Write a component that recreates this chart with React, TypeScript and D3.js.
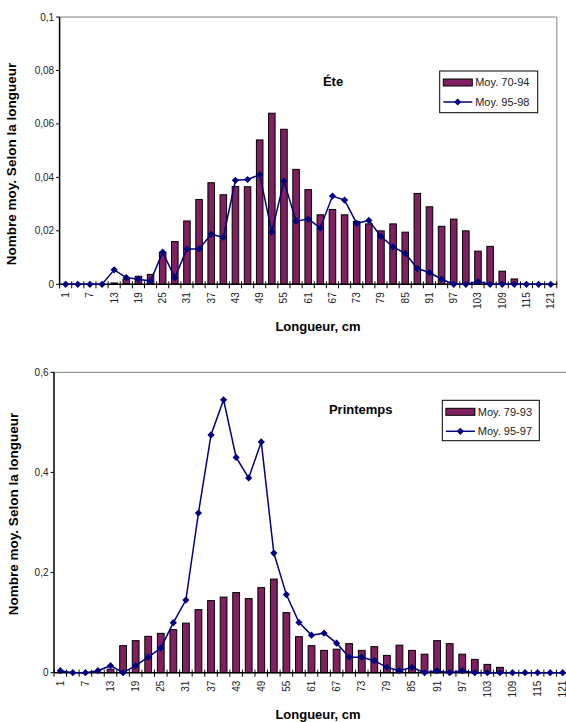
import React from "react";
import * as d3 from "d3";

const categories: number[] = d3.range(1, 122, 3);

const ete7094: number[] = [
  0, 0, 0, 0, 0.0005, 0.002, 0.003, 0.0037, 0.012, 0.016, 0.0237, 0.0317, 0.038, 0.0335,
  0.0366, 0.0365, 0.054, 0.064, 0.058, 0.043, 0.0354, 0.026, 0.028, 0.026, 0.0235, 0.0226,
  0.02, 0.0226, 0.0195, 0.034, 0.029, 0.0217, 0.0244, 0.02, 0.0124, 0.0142, 0.0049, 0.002,
  0, 0, 0,
];
const ete9598: number[] = [
  0, 0, 0, 0, 0.0054, 0.0025, 0.0019, 0.0012, 0.012, 0.0025, 0.0132, 0.0132, 0.0187, 0.0176,
  0.0389, 0.0392, 0.041, 0.0195, 0.0386, 0.0236, 0.0244, 0.0211, 0.033, 0.0315, 0.0228,
  0.0239, 0.0179, 0.014, 0.0116, 0.0059, 0.0044, 0.0019, 0, 0, 0.001, 0, 0, 0, 0, 0, 0,
];
const printemps7993: number[] = [
  0, 0, 0, 0, 0.007, 0.054, 0.064, 0.0726, 0.0786, 0.086, 0.099, 0.126, 0.144, 0.151, 0.16,
  0.148, 0.17, 0.187, 0.12, 0.072, 0.054, 0.0446, 0.047, 0.058, 0.0446, 0.052, 0.0346, 0.055,
  0.0446, 0.037, 0.064, 0.058, 0.037, 0.0266, 0.0166, 0.0107, 0, 0, 0, 0, 0,
];
const printemps9597: number[] = [
  0.004, 0, 0, 0.004, 0.014, 0, 0.014, 0.031, 0.049, 0.1, 0.145, 0.319, 0.475, 0.545, 0.43,
  0.389, 0.461, 0.239, 0.156, 0.1005, 0.075, 0.079, 0.059, 0.031, 0.031, 0.024, 0.0107, 0.004,
  0.0107, 0, 0.004, 0, 0.004, 0, 0, 0, 0, 0, 0, 0, 0,
];

const eteTicks: number[] = [0, 0.02, 0.04, 0.06, 0.08, 0.1];
const printempsTicks: number[] = [0, 0.2, 0.4, 0.6];

const FONT = "Liberation Sans, Arial, sans-serif";
const BAR_FILL = "#802060";
const LINE = "#000080";

interface PanelProps {
  left: number;
  right: number;
  top: number;
  bottom: number;
  yMax: number;
  yTicks: number[];
  bars: number[];
  line: number[];
  title: string;
  titleX: number;
  titleY: number;
  legend: { x: number; y: number; w: number; h: number };
  barLabel: string;
  lineLabel: string;
  yLabelX: number;
  yLabelY: number;
  xLabelY: number;
}

const fmt = (v: number) => (v === 0 ? "0" : String(+v.toFixed(2)).replace(".", ","));

function Panel(p: PanelProps) {
  const x = d3.scaleBand<number>().domain(categories).range([p.left, p.right]).padding(0);
  const y = d3.scaleLinear().domain([0, p.yMax]).range([p.bottom, p.top]);
  const bw = x.bandwidth();
  const barW = bw * 0.54;
  const cx = (c: number) => (x(c) as number) + bw / 2;
  const lineGen = d3
    .line<number>()
    .x((_, i) => cx(categories[i]))
    .y((d) => y(d));
  const diamond = (r: number) => `M0,${-r}L${r},0L0,${r}L${-r},0Z`;
  const boundaries = d3.range(categories.length + 1).map((i) => p.left + i * bw);
  const lg = p.legend;
  return (
    <g fontFamily={FONT}>
      <line x1={p.left} x2={p.right} y1={p.top} y2={p.top} stroke="#808080" strokeWidth={1} />
      <line x1={p.right} x2={p.right} y1={p.top} y2={p.bottom} stroke="#808080" strokeWidth={1} />
      {p.bars.map((v, i) =>
        v > 0 ? (
          <rect
            key={"b" + i}
            x={cx(categories[i]) - barW / 2}
            y={y(v)}
            width={barW}
            height={p.bottom - y(v)}
            fill={BAR_FILL}
            stroke="#000"
            strokeWidth={1}
          />
        ) : null
      )}
      <line x1={p.left} x2={p.left} y1={p.top} y2={p.bottom} stroke="#000" strokeWidth={1.5} />
      {p.yTicks.map((t) => (
        <g key={"yt" + t}>
          <line x1={p.left - 3.5} x2={p.left} y1={y(t)} y2={y(t)} stroke="#000" />
          <text x={p.left - 5.5} y={y(t)} dy="0.35em" textAnchor="end" fontSize={10} fill="#222">
            {fmt(t)}
          </text>
        </g>
      ))}
      <line x1={p.left} x2={p.right} y1={p.bottom} y2={p.bottom} stroke="#000" strokeWidth={1.5} />
      {boundaries.map((b, i) => (
        <line key={"xt" + i} x1={b} x2={b} y1={p.bottom - 3} y2={p.bottom + 4} stroke="#000" />
      ))}
      {categories.map((c, i) =>
        i % 2 === 0 ? (
          <text
            key={"xl" + c}
            transform={`translate(${cx(c) + 3.5},${p.bottom + 8}) rotate(-90)`}
            textAnchor="end"
            fontSize={10}
            fill="#222"
          >
            {c}
          </text>
        ) : null
      )}
      <path d={lineGen(p.line) || ""} fill="none" stroke={LINE} strokeWidth={1.5} />
      {p.line.map((v, i) => (
        <path
          key={"m" + i}
          d={diamond(3.6)}
          transform={`translate(${cx(categories[i])},${y(v)})`}
          fill={LINE}
        />
      ))}
      <text x={p.titleX} y={p.titleY} dy="0.35em" textAnchor="middle" fontSize={13} fontWeight="bold">
        {p.title}
      </text>
      <rect x={lg.x} y={lg.y} width={lg.w} height={lg.h} fill="#fff" stroke="#000" strokeWidth={1} />
      <rect x={lg.x + 3.6} y={lg.y + 8} width={29} height={7} fill={BAR_FILL} stroke="#000" strokeWidth={1} />
      <text x={lg.x + 35.5} y={lg.y + 11.5} dy="0.35em" fontSize={11} fill="#222">
        {p.barLabel}
      </text>
      <line x1={lg.x + 3.6} x2={lg.x + 32.6} y1={lg.y + 31} y2={lg.y + 31} stroke={LINE} strokeWidth={1.5} />
      <path d={diamond(3.6)} transform={`translate(${lg.x + 18},${lg.y + 31})`} fill={LINE} />
      <text x={lg.x + 35.5} y={lg.y + 31} dy="0.35em" fontSize={11} fill="#222">
        {p.lineLabel}
      </text>
      <text
        transform={`translate(${p.yLabelX},${p.yLabelY}) rotate(-90)`}
        textAnchor="middle"
        dy="0.35em"
        fontSize={13.5}
        fontWeight="bold"
      >
        Nombre moy. Selon la longueur
      </text>
      <text x={318} y={p.xLabelY} dy="0.35em" textAnchor="middle" fontSize={13} fontWeight="bold">
        Longueur, cm
      </text>
    </g>
  );
}

export default function App() {
  return (
    <svg
      width={566}
      height={722}
      style={{ position: "absolute", left: 0, top: 0, background: "#fff" }}
    >
      <rect width={566} height={722} fill="#fff" />
      <Panel
        left={59.6}
        right={556.8}
        top={17}
        bottom={284.3}
        yMax={0.1}
        yTicks={eteTicks}
        bars={ete7094}
        line={ete9598}
        title="Éte"
        titleX={333}
        titleY={81.7}
        legend={{ x: 439.7, y: 71, w: 98, h: 41.7 }}
        barLabel="Moy. 70-94"
        lineLabel="Moy. 95-98"
        yLabelX={11}
        yLabelY={164}
        xLabelY={326}
      />
      <Panel
        left={54}
        right={569}
        top={372.3}
        bottom={672.7}
        yMax={0.6}
        yTicks={printempsTicks}
        bars={printemps7993}
        line={printemps9597}
        title="Printemps"
        titleX={360.7}
        titleY={409.7}
        legend={{ x: 442.3, y: 400.3, w: 97, h: 40.4 }}
        barLabel="Moy. 79-93"
        lineLabel="Moy. 95-97"
        yLabelX={13.5}
        yLabelY={514}
        xLabelY={714}
      />
    </svg>
  );
}
